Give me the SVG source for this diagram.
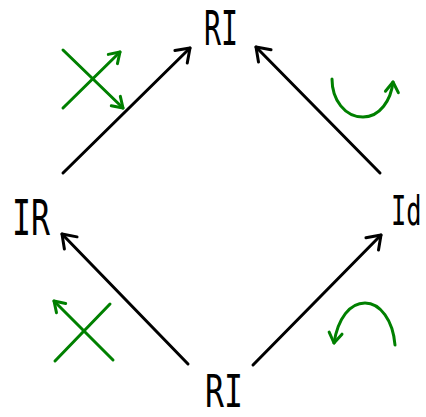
<svg xmlns="http://www.w3.org/2000/svg" width="426" height="417" viewBox="0 0 426 417">
  <style>
    .lbl { font-family: "DejaVu Sans Mono", "Liberation Mono", monospace; fill: #000; }
    .blk { stroke: #000; stroke-width: 3; fill: none; stroke-linecap: round; stroke-linejoin: round; }
    .grn { stroke: #008000; stroke-width: 3; fill: none; stroke-linecap: round; stroke-linejoin: round; }
  </style>
  <defs>
    <marker id="ah" markerUnits="userSpaceOnUse" viewBox="-16 -12 20 24" markerWidth="20" markerHeight="24" refX="0" refY="0" orient="auto" overflow="visible">
      <path d="M-12.5,-8.8 L0,0 L-12.5,8.8" fill="none" stroke="#000" stroke-width="3" stroke-linecap="round" stroke-linejoin="round"/>
    </marker>
    <marker id="gh" markerUnits="userSpaceOnUse" viewBox="-16 -12 20 24" markerWidth="20" markerHeight="24" refX="0" refY="0" orient="auto" overflow="visible">
      <path d="M-10,-6.5 L0,0 L-10,6.5" fill="none" stroke="#008000" stroke-width="3" stroke-linecap="round" stroke-linejoin="round"/>
    </marker>
  </defs>

  <g id="node-top">
    <text class="lbl" transform="translate(204,45) scale(0.59,1)" x="0" y="0" font-size="48">RI</text>
  </g>
  <g id="node-left">
    <text class="lbl" transform="translate(12,235) scale(0.63,1)" x="0" y="0" font-size="50">IR</text>
  </g>
  <g id="node-right">
    <text class="lbl" transform="translate(391,225) scale(0.62,1)" x="0" y="0" font-size="41">Id</text>
  </g>
  <g id="node-bottom">
    <text class="lbl" transform="translate(205,407) scale(0.70,1)" x="0" y="0" font-size="45">RI</text>
  </g>

  <g id="connectors">
    <line class="blk" x1="63" y1="173" x2="190" y2="48" marker-end="url(#ah)"/>
    <line class="blk" x1="380" y1="173" x2="256" y2="47" marker-end="url(#ah)"/>
    <line class="blk" x1="188" y1="364" x2="62" y2="234" marker-end="url(#ah)"/>
    <line class="blk" x1="253" y1="365" x2="381" y2="235" marker-end="url(#ah)"/>
  </g>

  <g id="annotations">
    <line class="grn" x1="63" y1="50" x2="123" y2="108" marker-end="url(#gh)"/>
    <line class="grn" x1="63" y1="108" x2="120" y2="52" marker-end="url(#gh)"/>
    <line class="grn" x1="113" y1="360" x2="54" y2="301" marker-end="url(#gh)"/>
    <line class="grn" x1="110" y1="304" x2="55" y2="361"/>
    <path class="grn" d="M332,79 C332,100 345,117 363,117 C380,117 391,100 393,82" marker-end="url(#gh)"/>
    <path class="grn" d="M395,345 C393,320 380,303 365,303 C350,303 338,318 334,343" marker-end="url(#gh)"/>
  </g>
</svg>
